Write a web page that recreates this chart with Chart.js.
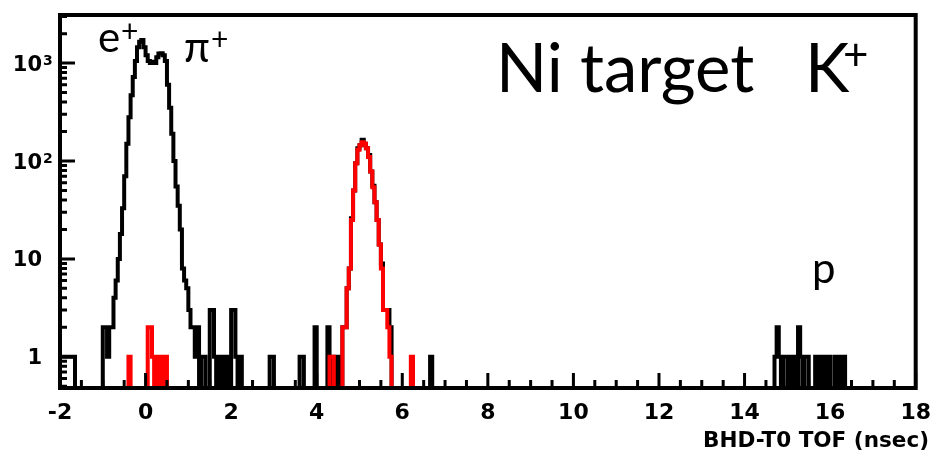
<!DOCTYPE html>
<html>
<head>
<meta charset="utf-8">
<title>BHD-T0 TOF, Ni target K+</title>
<script src="https://cdn.jsdelivr.net/npm/chart.js@4.4.1/dist/chart.umd.min.js"></script>
<style>
  html, body { margin: 0; padding: 0; background: #fff; }
</style>
</head>
<body>
<canvas id="tof" width="935" height="451"></canvas>
<script>
// Axis range and binning (ns)
const xMin = -2, xMax = 18, binWidth = 0.05;
const yMin = 0.48, yMax = 3100;
const xTicks = [-2, 0, 2, 4, 6, 8, 10, 12, 14, 16, 18];
const yTicks = [1, 10, 100, 1000];
const yTickBase = ['1', '10', '10', '10'];
const yTickSup = ['', '', '2', '3'];

// e+/pi+ peak, all events (bins from -1.00 ns)
const piPeakStart = -1.00;
const piPeakAll = [2, 2, 1, 2, 2, 4, 6, 10, 18, 33, 70, 150, 280, 470, 720, 1050,
  1450, 1650, 1720, 1450, 1200, 1050, 1000, 1030, 1000, 1150, 1250, 1260, 1200, 1050,
  600, 350, 190, 100, 55, 35, 20, 8, 6, 5, 3, 2, 2, 1, 2, 0, 1, 1];

// K+ peak (bins from 4.60 ns)
const kPeakStart = 4.60;
const kPeakAll = [2, 2, 5, 8, 26, 50, 95, 135, 145, 165, 150, 135, 115, 78, 56, 38,
  25, 14, 9, 3, 3, 3, 2];
const kPeakSel = [2, 2, 5, 8, 25, 50, 95, 130, 145, 155, 150, 135, 110, 78, 54, 38,
  25, 14, 8, 3, 3, 2, 1];

// protons (bins from 14.70 ns)
const pStart = 14.70;
const pAll = [1, 2, 1, 0, 1, 1, 0, 1, 0, 1, 0, 2, 1, 0, 1, 1, 0, 0, 0, 1, 0, 1, 0,
  1, 0, 1, 0, 0, 1, 0, 1, 0, 1];

// scattered single bins
const allSparseX = [-2.00, -1.95, -1.90, -1.85, -1.80, -1.75, -1.70, 1.50, 1.55, 1.60,
  1.70, 1.80, 1.90, 2.00, 2.05, 2.10, 2.20, 2.90, 2.95, 3.60, 3.65, 3.95, 4.25, 4.30,
  4.40, 4.50, 6.65];
const allSparseN = [1, 1, 1, 1, 1, 1, 1, 3, 3, 1, 1, 1, 1, 3, 3, 1, 1, 1, 1, 1, 1, 2, 2,
  1, 1, 1, 1];
const selSparseX = [-0.40, 0.05, 0.10, 0.15, 0.25, 0.35, 0.45, 4.30, 4.35, 6.20];
const selSparseN = [1, 2, 2, 1, 1, 1, 1, 1, 1, 1];

const nBins = Math.round((xMax - xMin) / binWidth);
const binOf = t => Math.round((t - xMin) / binWidth);

function fillRun(counts, start, values) {
  values.forEach((v, i) => { counts[binOf(start) + i] = v; });
}
function fillSparse(counts, xs, ns) {
  xs.forEach((t, i) => { counts[binOf(t)] = ns[i]; });
}
// outline points at bin edges; empty bins go below the frame
function toSteps(counts) {
  const pts = counts.map((c, i) => ({ x: xMin + i * binWidth, y: c > 0 ? c : 0.05 }));
  pts.push({ x: xMax, y: pts[pts.length - 1].y });
  return pts;
}

const allCounts = new Array(nBins).fill(0);
fillRun(allCounts, piPeakStart, piPeakAll);
fillRun(allCounts, kPeakStart, kPeakAll);
fillRun(allCounts, pStart, pAll);
fillSparse(allCounts, allSparseX, allSparseN);

const selCounts = new Array(nBins).fill(0);
fillRun(selCounts, kPeakStart, kPeakSel);
fillSparse(selCounts, selSparseX, selSparseN);

const axisFont = '"DejaVu Sans", "Liberation Sans", sans-serif';
const noteFont = 'Lato, "Open Sans", sans-serif';

// ROOT style frame: inward ticks, thick box, labels and notes
const framePlugin = {
  id: 'frame',
  afterDraw(chart) {
    const { ctx, chartArea: a, scales: { x, y } } = chart;
    ctx.save();
    ctx.strokeStyle = '#000';
    ctx.fillStyle = '#000';
    ctx.lineWidth = 3;
    ctx.lineCap = 'butt';
    ctx.beginPath();
    for (let k = 0; k <= 40; k++) {
      const v = xMin + k * 0.5;
      const px = x.getPixelForValue(v);
      const len = (k % 4 === 0) ? 15 : 8;
      ctx.moveTo(px, a.bottom);
      ctx.lineTo(px, a.bottom - len);
    }
    [0.1, 1, 10, 100, 1000].forEach(dec => {
      for (let m = 1; m <= 9; m++) {
        const v = m * dec;
        if (v < yMin || v > yMax) continue;
        const py = y.getPixelForValue(v);
        ctx.moveTo(a.left, py);
        ctx.lineTo(a.left + (m === 1 ? 15 : 7), py);
      }
    });
    ctx.stroke();

    ctx.lineWidth = 4;
    ctx.strokeRect(a.left, a.top, a.right - a.left, a.bottom - a.top);

    // y labels 1, 10, 10^2, 10^3
    yTicks.forEach((v, i) => {
      const py = y.getPixelForValue(v);
      ctx.font = 'bold 21px ' + axisFont;
      ctx.textAlign = 'right';
      ctx.textBaseline = 'alphabetic';
      ctx.fillText(yTickBase[i], 42, py + 7.5);
      if (yTickSup[i]) {
        ctx.font = 'bold 14px ' + axisFont;
        ctx.textAlign = 'left';
        ctx.fillText(yTickSup[i], 43, py + 2);
      }
    });

    // x axis title, right aligned under the frame
    ctx.font = 'bold 21px ' + axisFont;
    ctx.textAlign = 'left';
    const title = 'BHD-T0 TOF (nsec)';
    const w = ctx.measureText(title).width;
    ctx.save();
    ctx.translate(703, 446.5);
    ctx.scale(226 / w, 1);
    ctx.fillText(title, 0, 0);
    ctx.restore();

    // particle notes
    ctx.font = '42px ' + noteFont;
    ctx.fillText('e', 98, 52);
    ctx.fillText('\u03c0', 184, 62);
    ctx.fillText('p', 812, 283);
    ctx.font = '30px ' + noteFont;
    ctx.fillText('+', 121, 42);
    ctx.fillText('+', 211, 50);

    ctx.font = '67px ' + noteFont;
    ctx.fillText('Ni target', 496, 92);
    ctx.fillText('K', 805, 92);
    ctx.font = '44px ' + noteFont;
    ctx.fillText('+', 843, 70);
    ctx.restore();
  }
};

new Chart(document.getElementById('tof'), {
  type: 'line',
  data: {
    datasets: [
      {
        label: 'K+ selected',
        data: toSteps(selCounts),
        borderColor: '#ff0000',
        borderWidth: 4,
        stepped: true,
        pointRadius: 0,
        borderJoinStyle: 'miter',
        order: 0
      },
      {
        label: 'all',
        data: toSteps(allCounts),
        borderColor: '#000000',
        borderWidth: 4,
        stepped: true,
        pointRadius: 0,
        borderJoinStyle: 'miter',
        order: 1
      }
    ]
  },
  options: {
    responsive: false,
    devicePixelRatio: 1,
    animation: false,
    layout: { padding: { left: 0, right: 17, top: 15, bottom: 0 } },
    scales: {
      x: {
        type: 'linear',
        min: xMin,
        max: xMax,
        afterBuildTicks: s => { s.ticks = xTicks.map(v => ({ value: v })); },
        afterFit: s => { s.height = 63; },
        grid: { display: false },
        border: { display: false },
        ticks: {
          autoSkip: false,
          maxRotation: 0,
          padding: 4,
          color: '#000',
          font: { family: axisFont, weight: 'bold', size: 22 }
        }
      },
      y: {
        type: 'logarithmic',
        min: yMin,
        max: yMax,
        afterFit: s => { s.width = 60; },
        grid: { display: false },
        border: { display: false },
        ticks: { display: false }
      }
    },
    plugins: {
      legend: { display: false },
      tooltip: { enabled: false }
    }
  },
  plugins: [framePlugin]
});
</script>
</body>
</html>
